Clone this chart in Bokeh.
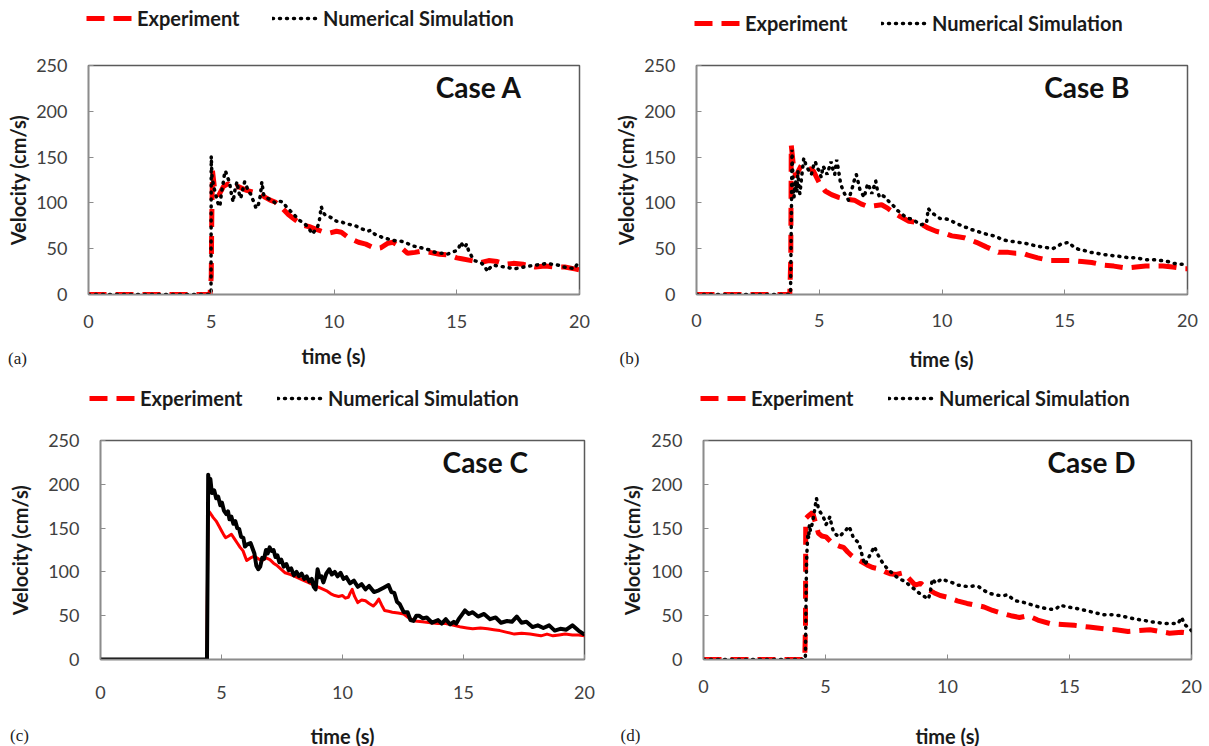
from bokeh.plotting import figure
from bokeh.layouts import column, row
from bokeh.models import Legend, LegendItem, Label
from bokeh.embed import file_html
from bokeh.resources import INLINE

# ---------------- Case A ----------------
a_exp_t = [0, 4.95, 5.0, 5.02, 5.05, 5.15, 5.3, 5.5, 5.7, 5.9, 6.1, 6.4, 6.7, 7.0, 7.2, 7.4, 7.6, 7.9,
           8.15, 8.4, 8.7, 9.0, 9.2, 9.5, 9.8, 10.1, 10.3, 10.6, 11.0, 11.3, 11.7, 11.9, 12.2, 12.4,
           12.7, 13.0, 13.3, 13.5, 13.9, 14.3, 14.7, 15.0, 15.2, 15.6, 16.0, 16.3, 16.65, 17.0, 17.3,
           17.7, 18.2, 18.6, 19.0, 19.4, 19.8, 20.0]
a_exp_v = [0, 0, 20, 80, 135, 112, 108, 118, 121, 116, 118, 114, 112, 110, 106, 103, 101, 94,
           87, 82, 76, 74, 72, 69, 67, 69, 68, 62, 57, 55, 50, 51, 56, 57,
           52, 45, 46, 47, 46, 44, 43, 40, 39, 37, 35, 37, 36, 33, 34,
           33, 30, 31, 30, 30, 28, 27]
a_sim_t = [0, 4.99, 5.0, 5.03, 5.1, 5.19, 5.27, 5.35, 5.42, 5.47, 5.53, 5.58, 5.66, 5.74, 5.82, 5.89,
           5.97, 6.05, 6.12, 6.2, 6.28, 6.36, 6.44, 6.52, 6.6, 6.67, 6.75, 6.83, 6.92, 7.0, 7.06, 7.14,
           7.22, 7.3, 7.45, 7.61, 7.75, 7.92, 8.05, 8.23, 8.38, 8.54, 8.7, 8.85, 9.0, 9.13, 9.22, 9.32,
           9.4, 9.48, 9.55, 9.63, 9.8, 9.95, 10.1, 10.25, 10.41, 10.55, 10.7, 10.88, 11.0, 11.2, 11.35,
           11.5, 11.65, 11.82, 12.0, 12.15, 12.28, 12.45, 12.6, 12.75, 12.9, 13.05, 13.22, 13.4, 13.55,
           13.69, 13.85, 14.0, 14.15, 14.3, 14.45, 14.62, 14.8, 15.01, 15.1, 15.17, 15.25, 15.32, 15.4,
           15.48, 15.6, 15.71, 15.85, 16.02, 16.15, 16.26, 16.35, 16.49, 16.7, 16.96, 17.15, 17.35,
           17.55, 17.74, 17.95, 18.21, 18.45, 18.67, 18.9, 19.14, 19.35, 19.61, 19.8, 19.92, 20.0]
a_sim_v = [0, 0, 151, 128, 118, 108, 100, 96, 112, 119, 130, 135, 128, 123, 110, 101,
           115, 123, 112, 105, 114, 123, 118, 112, 110, 105, 100, 94, 98, 108, 123, 108,
           107, 105, 103, 100, 102, 101, 96, 91, 87, 82, 79, 76, 71, 66, 70, 73,
           80, 96, 90, 87, 85, 83, 80, 80, 78, 77, 76, 75, 73, 71, 69,
           70, 66, 64, 62, 61, 60, 59, 58, 58, 57, 55, 53, 52, 51,
           50, 49, 47, 46, 45, 45, 44, 46, 48, 52, 57, 53, 51, 55,
           48, 42, 37, 36, 34, 30, 25, 29, 32, 31, 30, 29, 28,
           29, 30, 31, 32, 33, 34, 33, 32, 30, 29, 28, 34, 31]

# ---------------- Case B ----------------
b_exp_t = [0, 3.8, 3.84, 3.86, 3.95, 4.05, 4.15, 4.29, 4.5, 4.76, 5.0, 5.24, 5.5, 5.79, 6.1, 6.43,
           6.7, 6.98, 7.25, 7.54, 7.8, 8.0, 8.3, 8.65, 8.9, 9.1, 9.4, 9.76, 10.1, 10.4, 10.65, 10.9,
           11.2, 11.4, 11.8, 12.05, 12.3, 12.7, 13.0, 13.3, 13.5, 13.9, 14.4, 14.8, 15.3, 15.7, 16.1,
           16.6, 17.0, 17.5, 17.9, 18.3, 18.6, 19.0, 19.4, 19.9, 20.0]
b_exp_v = [0, 0, 40, 163, 140, 128, 135, 142, 139, 135, 122, 113, 109, 106, 104, 103,
           99, 96, 97, 98, 94, 90, 85, 80, 79, 78, 73, 69, 67, 64, 63, 62,
           59, 57, 52, 49, 46, 46, 45, 45, 43, 40, 37, 37, 37, 36, 35,
           32, 31, 29, 30, 31, 31, 31, 30, 28, 28]
b_sim_t = [0, 3.83, 3.85, 3.87, 3.89, 3.93, 3.97, 4.01, 4.05, 4.09, 4.13, 4.17, 4.21, 4.29, 4.37, 4.44,
           4.52, 4.6, 4.68, 4.76, 4.84, 4.92, 5.0, 5.08, 5.16, 5.24, 5.32, 5.4, 5.48, 5.56, 5.63, 5.71,
           5.79, 5.87, 5.95, 6.03, 6.11, 6.19, 6.27, 6.35, 6.43, 6.51, 6.59, 6.67, 6.75, 6.83, 6.9,
           6.98, 7.06, 7.14, 7.22, 7.3, 7.38, 7.46, 7.58, 7.7, 7.82, 7.94, 8.05, 8.17, 8.33, 8.49,
           8.65, 8.81, 8.97, 9.13, 9.25, 9.37, 9.44, 9.52, 9.6, 9.76, 9.92, 10.08, 10.24, 10.4, 10.56,
           10.72, 10.87, 11.03, 11.19, 11.43, 11.67, 11.9, 12.14, 12.37, 12.6, 12.85, 13.1, 13.33,
           13.57, 13.81, 14.05, 14.3, 14.5, 14.68, 14.84, 15.0, 15.16, 15.28, 15.4, 15.6, 15.8, 16.05,
           16.3, 16.5, 16.75, 17.1, 17.4, 17.65, 17.86, 18.1, 18.3, 18.6, 18.97, 19.2, 19.44, 19.7,
           19.92, 20.0]
b_sim_v = [0, 0, 50, 100, 158, 125, 106, 118, 124, 112, 135, 120, 110, 130, 149, 143,
           138, 134, 131, 140, 145, 138, 135, 128, 140, 136, 131, 138, 145, 136, 131, 147,
           135, 121, 115, 110, 107, 103, 110, 117, 125, 131, 122, 113, 110, 106, 114,
           121, 116, 110, 117, 124, 112, 106, 108, 106, 102, 99, 96, 92, 89, 85,
           83, 82, 79, 76, 77, 78, 94, 91, 89, 86, 83, 83, 82, 80, 78,
           76, 74, 73, 71, 69, 67, 65, 64, 61, 59, 58, 57, 56,
           55, 53, 52, 51, 50, 52, 55, 56, 57, 54, 51, 49, 48, 46,
           45, 44, 43, 42, 41, 40, 40, 39, 38, 38, 37, 36, 34, 33,
           33, 32]

# ---------------- Case C ----------------
c_exp_t = [0, 4.4, 4.41, 4.43, 4.45, 4.54, 4.66, 4.78, 4.9, 5.0, 5.1, 5.17, 5.3, 5.41, 5.53, 5.65,
           5.77, 5.89, 5.97, 6.04, 6.2, 6.36, 6.52, 6.68, 6.84, 7.0, 7.15, 7.31, 7.47, 7.63, 7.86,
           8.1, 8.34, 8.58, 8.82, 9.05, 9.21, 9.37, 9.52, 9.68, 9.84, 10.0, 10.12, 10.24, 10.32,
           10.4, 10.5, 10.63, 10.79, 10.95, 11.1, 11.27, 11.38, 11.5, 11.62, 11.74, 11.9, 12.06,
           12.3, 12.53, 12.76, 13.0, 13.3, 13.64, 13.95, 14.27, 14.6, 14.9, 15.14, 15.38, 15.7,
           16.0, 16.25, 16.5, 16.8, 17.1, 17.4, 17.75, 18.0, 18.2, 18.45, 18.7, 18.95, 19.2, 19.5,
           19.75, 20.0]
c_exp_v = [0, 0, 60, 120, 170, 167, 162, 158, 152, 147, 142, 139, 141, 143, 138, 133,
           128, 124, 118, 113, 116, 118, 115, 113, 116, 114, 110, 107, 103, 99, 97,
           94, 91, 88, 85, 82, 80, 78, 75, 73, 72, 73, 70, 71, 76,
           80, 72, 65, 68, 67, 64, 61, 64, 69, 62, 56, 55, 54,
           53, 52, 47, 44, 43, 42, 41, 41, 39, 37, 36, 35, 36,
           35, 34, 33, 31, 29, 30, 29, 28, 27, 29, 27, 28, 29, 28,
           28, 27]
c_sim_t = [0, 4.4, 4.42, 4.44, 4.45, 4.5, 4.54, 4.6, 4.7, 4.78, 4.86, 4.95, 5.02, 5.1, 5.2, 5.27,
           5.33, 5.41, 5.49, 5.57, 5.65, 5.73, 5.81, 5.9, 5.97, 6.04, 6.12, 6.2, 6.28, 6.36, 6.44,
           6.52, 6.6, 6.68, 6.76, 6.84, 6.91, 6.99, 7.07, 7.15, 7.23, 7.31, 7.39, 7.47, 7.57, 7.68,
           7.78, 7.88, 7.99, 8.1, 8.2, 8.31, 8.42, 8.52, 8.63, 8.73, 8.81, 8.89, 8.93, 8.97, 9.05,
           9.13, 9.21, 9.33, 9.45, 9.56, 9.68, 9.8, 9.92, 10.04, 10.16, 10.31, 10.47, 10.63, 10.79,
           10.95, 11.1, 11.3, 11.5, 11.7, 11.9, 12.02, 12.14, 12.25, 12.37, 12.53, 12.69, 12.81,
           12.93, 13.05, 13.16, 13.32, 13.48, 13.7, 13.95, 14.1, 14.27, 14.45, 14.6, 14.7, 14.8,
           14.93, 15.06, 15.22, 15.38, 15.6, 15.85, 16.1, 16.33, 16.55, 16.8, 17.0, 17.2, 17.4, 17.6,
           17.85, 18.07, 18.3, 18.54, 18.77, 19.0, 19.25, 19.5, 19.75, 19.97, 20.0]
c_sim_v = [0, 0, 80, 160, 211, 196, 206, 190, 193, 184, 186, 176, 179, 170, 166, 169,
           160, 163, 155, 158, 150, 149, 140, 139, 129, 131, 132, 133, 127, 121, 107,
           103, 106, 116, 115, 125, 121, 128, 124, 125, 117, 119, 111, 114, 106, 109,
           102, 104, 96, 100, 95, 98, 92, 95, 89, 92, 83, 80, 92, 103, 94,
           95, 88, 98, 103, 97, 100, 95, 99, 92, 94, 87, 90, 83, 86,
           80, 84, 77, 79, 82, 85, 77, 76, 66, 63, 54, 54, 45,
           44, 50, 50, 47, 48, 42, 45, 41, 46, 40, 43, 41, 46,
           51, 56, 52, 54, 49, 52, 46, 48, 42, 44, 43, 49, 42, 43,
           37, 39, 36, 39, 33, 35, 34, 39, 33, 29, 29]

# ---------------- Case D ----------------
d_exp_t = [0, 4.15, 4.18, 4.19, 4.3, 4.47, 4.6, 4.71, 4.85, 5.02, 5.2, 5.42, 5.6, 5.74, 5.9, 6.05,
           6.25, 6.45, 6.7, 6.93, 7.1, 7.24, 7.45, 7.64, 7.9, 8.19, 8.4, 8.67, 8.8, 8.9, 9.2, 9.46,
           9.7, 10.0, 10.4, 10.8, 11.15, 11.5, 11.85, 12.2, 12.6, 12.95, 13.3, 13.7, 14.2, 14.7,
           15.2, 15.8, 16.4, 16.9, 17.4, 17.85, 18.3, 18.7, 19.1, 19.6, 19.9, 20.0]
d_exp_v = [0, 0, 40, 161, 164, 168, 155, 144, 141, 140, 135, 131, 129, 128, 123, 119,
           115, 112, 108, 105, 104, 103, 100, 98, 97, 99, 93, 85, 86, 87, 80, 76,
           73, 71, 67, 64, 62, 60, 56, 53, 50, 48, 50, 45, 41, 40,
           39, 37, 35, 34, 32, 33, 34, 32, 30, 31, 30, 30]
d_sim_t = [0, 4.17, 4.18, 4.2, 4.22, 4.25, 4.28, 4.31, 4.34, 4.38, 4.42, 4.48, 4.55, 4.63, 4.71, 4.79,
           4.87, 4.95, 5.02, 5.1, 5.18, 5.26, 5.34, 5.46, 5.58, 5.7, 5.82, 5.9, 5.97, 6.05, 6.13,
           6.25, 6.37, 6.49, 6.61, 6.73, 6.85, 6.93, 7.0, 7.08, 7.16, 7.28, 7.4, 7.56, 7.72, 7.88,
           8.03, 8.19, 8.35, 8.51, 8.67, 8.83, 8.99, 9.1, 9.22, 9.3, 9.38, 9.46, 9.54, 9.66, 9.78,
           9.94, 10.1, 10.25, 10.4, 10.64, 10.89, 11.08, 11.28, 11.48, 11.68, 11.92, 12.16, 12.32,
           12.47, 12.63, 12.79, 13.02, 13.26, 13.5, 13.74, 14.05, 14.37, 14.5, 14.61, 14.9, 15.17,
           15.5, 15.8, 16.1, 16.43, 16.75, 17.07, 17.4, 17.7, 18.0, 18.34, 18.65, 18.97, 19.2,
           19.45, 19.55, 19.6, 19.68, 19.76, 19.85, 19.92, 20.0]
d_sim_v = [0, 0, 9, 60, 108, 130, 144, 138, 154, 147, 151, 158, 170, 184, 172, 168,
           165, 160, 154, 158, 163, 152, 145, 142, 140, 144, 147, 150, 152, 146, 140,
           136, 133, 120, 108, 114, 121, 125, 129, 124, 119, 113, 108, 103, 99, 95,
           92, 90, 87, 83, 80, 76, 73, 71, 69, 78, 92, 89, 87, 90, 92,
           90, 89, 87, 85, 84, 83, 84, 83, 79, 76, 74, 73, 73,
           74, 70, 67, 66, 64, 62, 60, 58, 57, 59, 62, 60, 59,
           57, 55, 53, 51, 51, 50, 48, 46, 45, 43, 42, 41, 41,
           41, 46, 48, 42, 39, 37, 35, 33]

# Axis scale and tick values shared by all four panels
x_ticks = [0, 5, 10, 15, 20]
y_ticks = [0, 50, 100, 150, 200, 250]
series_names = ["Experiment", "Numerical Simulation"]
x_title = "time (s)"
y_title = "Velocity (cm/s)"

FONT = "Lato"
RED = "#ff0000"
W = 1209

exp_dashed = dict(line_color=RED, line_width=5, line_dash="18 9")
sim_dotted = dict(line_color="black", line_width=3.5, line_dash="1 6", line_cap="round")
exp_solid = dict(line_color=RED, line_width=3, line_join="round")
sim_solid = dict(line_color="black", line_width=4, line_join="round")


def strip(h):
    """Full-width band with no axes; its frame is the whole band.
    The y range sits below every velocity value, so series drawn here only
    provide legend keys."""
    s = figure(width=W, height=h, x_range=(0, 20), y_range=(-2000, -1000), title=None,
               output_backend="svg", toolbar_location=None,
               x_axis_location=None, y_axis_location=None,
               min_border_left=0, min_border_right=0,
               min_border_top=0, min_border_bottom=0)
    s.grid.visible = False
    s.outline_line_color = None
    return s


def key_strip(h, entries):
    s = strip(h)
    for exp_t, exp_v, sim_t, sim_v, x1, x2, y in entries:
        r_exp = s.line(exp_t, exp_v, **exp_dashed)
        r_sim = s.line(sim_t, sim_v, **sim_dotted)
        for rend, name, gx in ((r_exp, series_names[0], x1), (r_sim, series_names[1], x2)):
            s.add_layout(Legend(items=[LegendItem(label=name, renderers=[rend])],
                                location=(gx, y), padding=0, margin=0,
                                glyph_width=46, glyph_height=24, label_height=24,
                                label_standoff=5, border_line_color=None,
                                background_fill_alpha=0,
                                label_text_font=FONT, label_text_font_size="20px",
                                label_text_font_style="bold",
                                label_text_color="#1a1a1a"))
    return s


def foot_strip(h, entries):
    s = strip(h)
    for tag, tx, ty, lx, ly in entries:
        s.add_layout(Label(x=lx, y=ly, x_units="screen", y_units="screen",
                           text=x_title, text_font=FONT, text_font_size="20px",
                           text_font_style="bold", text_color="#1a1a1a",
                           text_align="center", text_baseline="middle"))
        s.add_layout(Label(x=tx, y=ty, x_units="screen", y_units="screen",
                           text=tag, text_font="Liberation Serif", text_font_size="17px",
                           text_color="#222222", text_align="center",
                           text_baseline="middle"))
    return s


def main_plot(title, exp_t, exp_v, sim_t, sim_v, g, exp_style, sim_style):
    p = figure(width=g["w"], height=g["h"], x_range=(0, 20), y_range=(0, 250),
               output_backend="svg", toolbar_location=None,
               min_border_left=g["l"], min_border_right=g["r"],
               min_border_top=g["t"], min_border_bottom=g["b"])
    p.grid.visible = False
    p.outline_line_color = "#5a5a5a"
    p.outline_line_width = 1.5

    p.line(exp_t, exp_v, **exp_style)
    p.line(sim_t, sim_v, **sim_style)

    for ax in (p.xaxis[0], p.yaxis[0]):
        ax.axis_line_color = "#8c8c8c"
        ax.axis_line_width = 1.5
        ax.major_tick_in = 5
        ax.major_tick_out = 0
        ax.minor_tick_line_color = None
        ax.major_tick_line_color = "#8c8c8c"
        ax.major_label_text_font = FONT
        ax.major_label_text_font_size = "18px"
        ax.major_label_text_color = "#404040"
        ax.axis_label_text_font = FONT
        ax.axis_label_text_font_size = "20px"
        ax.axis_label_text_font_style = "bold"
        ax.axis_label_text_color = "#1a1a1a"

    p.xaxis.ticker = x_ticks
    p.yaxis.ticker = y_ticks
    p.yaxis.axis_label = y_title
    p.xaxis.major_label_standoff = g["xls"]
    p.yaxis.major_label_standoff = 21
    p.yaxis.axis_label_standoff = g["yas"]

    p.add_layout(Label(x=15.9, y=226, text=title, text_font=FONT,
                       text_font_size="28px", text_font_style="bold",
                       text_color="#111111", text_align="center",
                       text_baseline="middle"))
    return p


# plot geometry: size, borders, tick-label and axis-title standoffs
geo_a = dict(w=604, h=296, l=88, r=25, t=16, b=46, xls=20, yas=3)
geo_b = dict(w=605, h=296, l=92, r=22, t=21, b=40, xls=19, yas=3)
geo_c = dict(w=604, h=301, l=100, r=20, t=23, b=59, xls=26, yas=13)
geo_d = dict(w=605, h=301, l=99, r=18, t=22, b=44, xls=20, yas=4)

pa = main_plot("Case A", a_exp_t, a_exp_v, a_sim_t, a_sim_v, geo_a, exp_dashed, sim_dotted)
pb = main_plot("Case B", b_exp_t, b_exp_v, b_sim_t, b_sim_v, geo_b, exp_dashed, sim_dotted)
pc = main_plot("Case C", c_exp_t, c_exp_v, c_sim_t, c_sim_v, geo_c, exp_solid, sim_solid)
pd = main_plot("Case D", d_exp_t, d_exp_v, d_sim_t, d_sim_v, geo_d, exp_dashed, sim_dotted)

keys_top = key_strip(44, [(a_exp_t, a_exp_v, a_sim_t, a_sim_v, 86, 272, 14),
                          (b_exp_t, b_exp_v, b_sim_t, b_sim_v, 694, 881, 9)])
foot_top = foot_strip(33, [("(a)", 17, 15, 333, 18), ("(b)", 629, 15, 941, 15)])
keys_bot = key_strip(44, [(c_exp_t, c_exp_v, c_sim_t, c_sim_v, 89, 277, 7),
                          (d_exp_t, d_exp_v, d_sim_t, d_sim_v, 700, 888, 7)])
foot_bot = foot_strip(28, [("(c)", 19, 11, 342, 11), ("(d)", 630, 11, 947, 11)])

layout = column(keys_top, row(pa, pb, spacing=0), foot_top,
                keys_bot, row(pc, pd, spacing=0), foot_bot, spacing=0)
open("out.html", "w").write(file_html(layout, INLINE))
